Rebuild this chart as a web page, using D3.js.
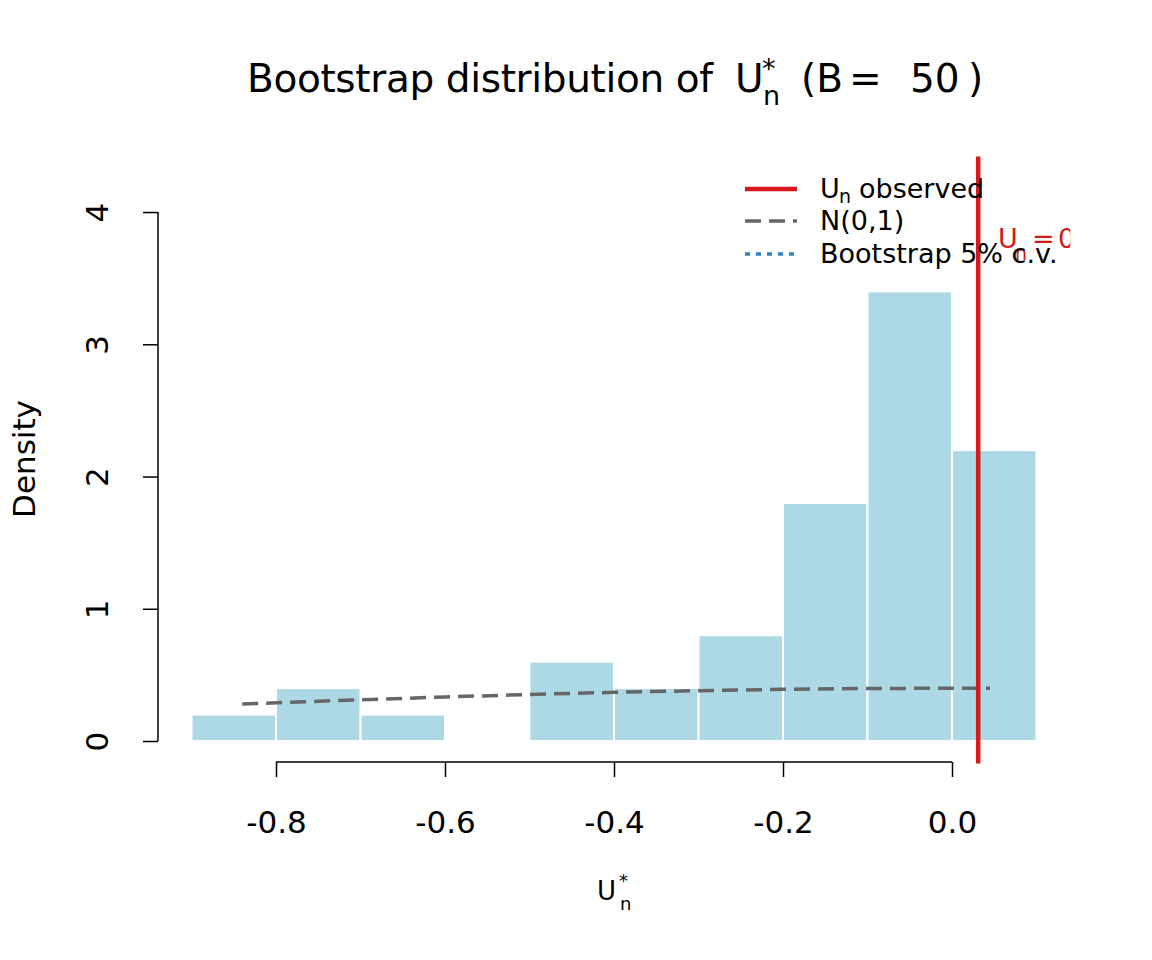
<!DOCTYPE html>
<html><head><meta charset="utf-8">
<script src="https://cdn.jsdelivr.net/npm/d3@7"></script>
<style>body{margin:0;background:#fff}svg{display:block}text{font-family:"DejaVu Sans",sans-serif}</style>
</head><body>
<script>
const binStarts = [-0.9,-0.8,-0.7,-0.6,-0.5,-0.4,-0.3,-0.2,-0.1,0.0];
const binWidth = 0.1;
const densities = [0.2,0.4,0.2,0.0,0.6,0.4,0.8,1.8,3.4,2.2];
const normX = [-0.84,-0.7,-0.6,-0.5,-0.4,-0.3,-0.2,-0.1,0.0,0.045];
const normY = [0.280,0.312,0.333,0.352,0.368,0.381,0.391,0.397,0.399,0.399];
const observedU = 0.031;
const xTicks = [-0.8,-0.6,-0.4,-0.2,0.0];
const yTicks = [0,1,2,3,4];
const legendLabels = ["observed","N(0,1)","Bootstrap 5% c.v."];
const bootB = 50;

const W=1152,H=960;
const svg=d3.select("body").append("svg").attr("width",W).attr("height",H);
const x=d3.scaleLinear().domain([-0.94,0.14]).range([157.7,1070.3]);
const y=d3.scaleLinear().domain([-0.17,4.42]).range([763.5,156.5]);

svg.append("defs").append("clipPath").attr("id","plotclip").append("rect")
  .attr("x",x(-0.94)).attr("y",y(4.42)).attr("width",x(0.14)-x(-0.94)).attr("height",y(-0.17)-y(4.42));

// bars
svg.append("g").selectAll("rect").data(binStarts.map((b,i)=>({b,d:densities[i]})).filter(d=>d.d>0)).join("rect")
  .attr("x",d=>x(d.b)).attr("width",d=>x(d.b+binWidth)-x(d.b))
  .attr("y",d=>y(d.d)).attr("height",d=>y(0)-y(d.d))
  .attr("fill","#ADD8E6").attr("stroke","#ffffff").attr("stroke-width",2);

// normal curve
svg.append("path").datum(normX.map((v,i)=>[v,normY[i]]))
  .attr("d",d3.line().x(d=>x(d[0])).y(d=>y(d[1])))
  .attr("fill","none").attr("stroke","#666666").attr("stroke-width",3.5).attr("stroke-dasharray","16,8");

// observed line
svg.append("line").attr("x1",x(observedU)).attr("x2",x(observedU)).attr("y1",y(4.42)).attr("y2",y(-0.17))
  .attr("stroke","#D7191C").attr("stroke-width",4.5);

// label clipped
const lg=svg.append("g").attr("clip-path","url(#plotclip)").attr("fill","#D7191C");
lg.append("text").attr("x",998).attr("y",248).attr("font-size",27).text("U");
lg.append("text").attr("x",1015).attr("y",260).attr("font-size",19).text("n");
lg.append("text").attr("x",1032).attr("y",248).attr("font-size",27).text("=");
lg.append("text").attr("x",1058).attr("y",248).attr("font-size",27).text(observedU.toFixed(3));

// axes
const fmtX = d => d3.format(".1f")(d).replace("\u2212","-");
const gx=svg.append("g").attr("transform","translate(0,762)")
  .call(d3.axisBottom(x).tickValues(xTicks).tickFormat(fmtX).tickSizeOuter(0).tickSize(15));
gx.select(".domain").attr("d",`M${x(-0.8)},0H${x(0)}`).attr("stroke","#000").attr("stroke-width",1.5);
gx.selectAll(".tick line").attr("stroke","#000").attr("stroke-width",1.5);
gx.selectAll("text").attr("font-size",31).attr("fill","#000").attr("font-family","DejaVu Sans")
  .attr("y",71).attr("dy",0);

const gy=svg.append("g").attr("transform","translate(158,0)")
  .call(d3.axisLeft(y).tickValues(yTicks).tickFormat(d3.format("d")).tickSizeOuter(0).tickSize(15));
gy.select(".domain").attr("d",`M0,${y(0)}V${y(4)}`).attr("stroke","#000").attr("stroke-width",1.5);
gy.selectAll(".tick line").attr("stroke","#000").attr("stroke-width",1.5);
gy.selectAll("text").attr("font-size",31).attr("fill","#000").attr("font-family","DejaVu Sans")
  .attr("x",0).attr("dy",0).attr("text-anchor","middle")
  .attr("transform","translate(-50,0) rotate(-90)");

// y label
svg.append("text").attr("transform","translate(35,459) rotate(-90)").attr("text-anchor","middle")
  .attr("font-size",31).text("Density");

// x label
svg.append("text").attr("x",597).attr("y",900).attr("font-size",26).text("U");
svg.append("text").attr("x",620).attr("y",910).attr("font-size",18).text("n");
svg.append("text").attr("x",619).attr("y",887).attr("font-size",18).text("*");

// title
svg.append("text").attr("x",247).attr("y",92).attr("font-size",39).attr("textLength",466).text("Bootstrap distribution of");
svg.append("text").attr("x",735).attr("y",92).attr("font-size",39).text("U");
svg.append("text").attr("x",763).attr("y",105).attr("font-size",27).text("n");
svg.append("text").attr("x",762).attr("y",78).attr("font-size",27).text("*");
svg.append("text").attr("x",801).attr("y",92).attr("font-size",39).text("(B");
svg.append("text").attr("x",849).attr("y",92).attr("font-size",39).attr("textLength",34).text("=");
svg.append("text").attr("x",910).attr("y",92).attr("font-size",39).text(String(bootB));
svg.append("text").attr("x",968).attr("y",92).attr("font-size",39).text(")");

// legend
const leg=svg.append("g");
const ly=[189,221,254];
leg.append("line").attr("x1",745).attr("x2",797).attr("y1",ly[0]).attr("y2",ly[0]).attr("stroke","#D7191C").attr("stroke-width",4.5);
leg.append("line").attr("x1",745).attr("x2",797).attr("y1",ly[1]).attr("y2",ly[1]).attr("stroke","#666666").attr("stroke-width",3.5).attr("stroke-dasharray","16,8");
leg.append("line").attr("x1",745).attr("x2",797).attr("y1",ly[2]).attr("y2",ly[2]).attr("stroke","#3182BD").attr("stroke-width",3.5).attr("stroke-dasharray","5,6");
leg.append("text").attr("x",820).attr("y",ly[0]+9).attr("font-size",27).text("U");
leg.append("text").attr("x",839).attr("y",ly[0]+14).attr("font-size",19).text("n");
leg.append("text").attr("x",859).attr("y",ly[0]+9).attr("font-size",27).text(legendLabels[0]);
leg.append("text").attr("x",820).attr("y",ly[1]+9).attr("font-size",27).text(legendLabels[1]);
leg.append("text").attr("x",820).attr("y",ly[2]+9).attr("font-size",27).text(legendLabels[2]);
</script>
</body></html>
